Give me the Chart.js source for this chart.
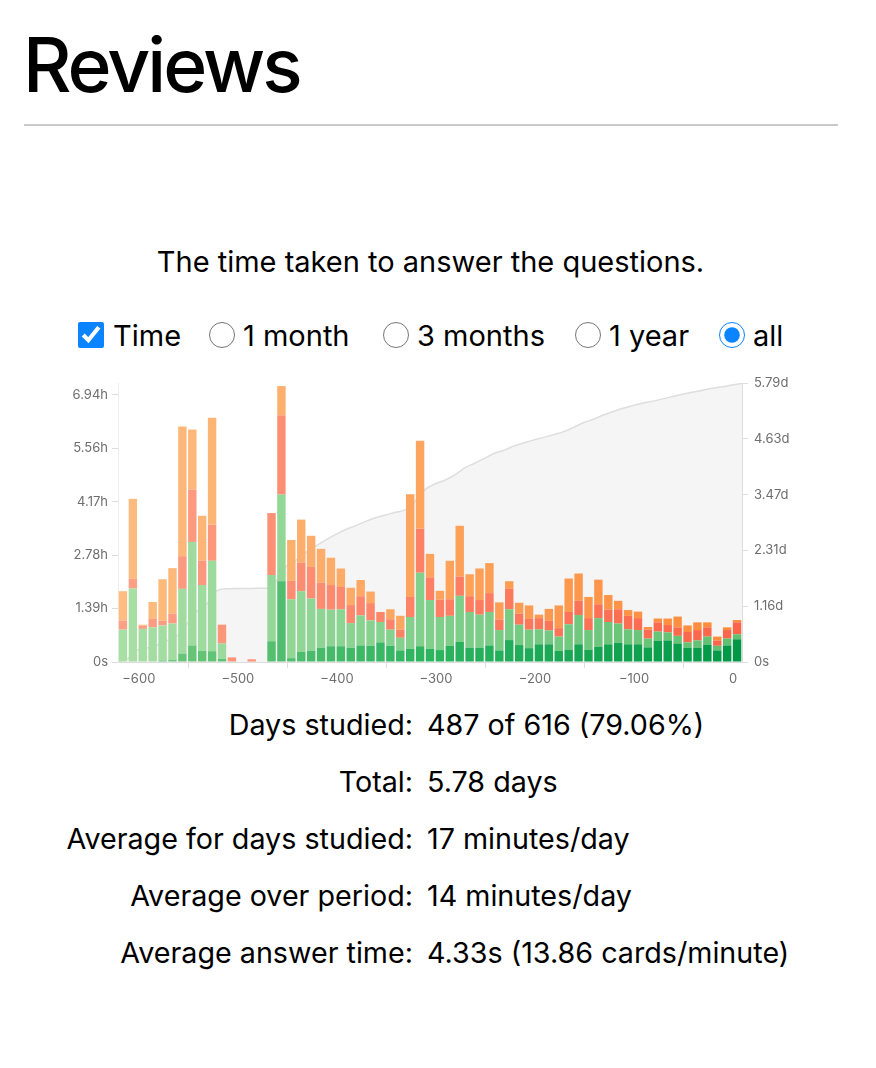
<!DOCTYPE html>
<html><head><meta charset="utf-8">
<script src="https://cdn.jsdelivr.net/npm/chart.js@4.4.0/dist/chart.umd.min.js"></script>
<style>
html,body{margin:0;padding:0;background:#fff;}
body{width:876px;height:1068px;position:relative;overflow:hidden;font-family:Inter,"Liberation Sans",Arial,sans-serif;color:#000;}
.abs{position:absolute;white-space:nowrap;}
h1{position:absolute;left:23px;top:27px;margin:0;font-size:75px;font-weight:500;line-height:75px;letter-spacing:-3px;}
.rule{position:absolute;left:24px;top:124px;width:814px;height:2px;background:#c9c9c9;}
.sub{left:0;width:861px;text-align:center;top:244px;font-size:29px;line-height:36px;}
.ctl{font-size:29px;line-height:36px;top:318px;}
input{position:absolute;margin:0;width:26px;height:26px;accent-color:#0a84ff;top:322px;}
.lab{font-size:28.7px;line-height:36px;right:463px;text-align:right;}
.val{font-size:28.7px;line-height:36px;left:427px;}
#wrap{position:absolute;left:0;top:360px;width:876px;height:340px;}
</style></head>
<body>
<h1>Reviews</h1>
<div class="rule"></div>
<div class="abs sub">The time taken to answer the questions.</div>

<input type="checkbox" checked style="left:78px">
<div class="abs ctl" style="left:113px">Time</div>
<input type="radio" name="r" style="left:209px">
<div class="abs ctl" style="left:243px">1 month</div>
<input type="radio" name="r" style="left:383px">
<div class="abs ctl" style="left:417px">3 months</div>
<input type="radio" name="r" style="left:575px">
<div class="abs ctl" style="left:609px">1 year</div>
<input type="radio" name="r" checked style="left:719px">
<div class="abs ctl" style="left:753px">all</div>

<div id="wrap"><canvas id="c" width="876" height="340"></canvas></div>

<div class="abs lab" style="top:707px">Days studied:</div><div class="abs val" style="top:707px">487 of 616 (79.06%)</div>
<div class="abs lab" style="top:764px">Total:</div><div class="abs val" style="top:764px">5.78 days</div>
<div class="abs lab" style="top:821px">Average for days studied:</div><div class="abs val" style="top:821px">17 minutes/day</div>
<div class="abs lab" style="top:878px">Average over period:</div><div class="abs val" style="top:878px">14 minutes/day</div>
<div class="abs lab" style="top:935px">Average answer time:</div><div class="abs val" style="top:935px">4.33s (13.86 cards/minute)</div>

<script>
// Bin centers (days relative to today), 10-day bins
const binCenters = [-616,-606,-596,-586,-576,-566,-556,-546,-536,-526,-516,-506,-496,-486,-476,-466,-456,-446,-436,-426,-416,-406,-396,-386,-376,-366,-356,-346,-336,-326,-316,-306,-296,-286,-276,-266,-256,-246,-236,-226,-216,-206,-196,-186,-176,-166,-156,-146,-136,-126,-116,-106,-96,-86,-76,-66,-56,-46,-36,-26,-16,-6,4];

// Hours per bin
const mature = [0,0,0,0,0.04,0.06,0.22,0.43,0.29,0.28,0.08,0,0,0,0,0.54,2.10,0.10,0.26,0.29,0.37,0.41,0.41,0.37,0.43,0.42,0.51,0.42,0.30,0.34,0.41,0.34,0.31,0.42,0.52,0.37,0.37,0.43,0.30,0.57,0.44,0.36,0.46,0.46,0.29,0.32,0.46,0.32,0.39,0.46,0.50,0.46,0.46,0.38,0.55,0.56,0.48,0.37,0.37,0.45,0.30,0.43,0.59];
const young = [0.84,1.91,0.86,0.90,0.91,0.94,1.68,2.69,1.71,2.35,0.40,0,0,0,0,1.72,2.25,1.53,1.58,1.36,1.01,0.95,0.96,0.64,0.78,0.66,0.53,0.42,0.33,0.83,1.91,1.27,0.86,0.78,1.20,0.93,0.86,0.87,0.53,0.80,0.53,0.48,0.39,0.36,0.37,0.66,0.76,0.51,0.75,0.58,0.50,0.39,0.37,0.23,0.24,0.21,0.20,0.14,0.19,0.21,0.12,0.18,0.13];
const relearn = [0.24,0.25,0.08,0.22,0.12,0.26,0.85,1.36,0.63,0.94,0.49,0.12,0,0.07,0,1.61,2.06,0.48,0.74,0.82,0.68,0.64,0.58,0.47,0.50,0.45,0.26,0.27,0.21,0.52,1.14,0.59,0.45,0.43,0.50,0.41,0.38,0.49,0.27,0.53,0.29,0.28,0.29,0.25,0.22,0.32,0.37,0.31,0.36,0.32,0.37,0.35,0.31,0.23,0.24,0.19,0.22,0.27,0.27,0.24,0.14,0.22,0.31];
const learn = [0.76,2.08,0.03,0.44,1.08,1.18,3.37,1.56,1.17,2.78,0,0,0,0,0,0,0.76,1.06,1.12,0.81,0.88,0.71,0.48,0.45,0.42,0.30,0,0.26,0.36,2.67,2.29,0.61,0.23,1.00,1.32,0.57,0.82,0.78,0.45,0.20,0.28,0.35,0.09,0.31,0.59,0.87,0.71,0.55,0.64,0.38,0.22,0.15,0.17,0.07,0.10,0.17,0.28,0.17,0.20,0.13,0.10,0.07,0.06];

// Cumulative time (hours) at bin edges
const cumulativeDays = [-621,-611,-601,-591,-581,-571,-561,-551,-541,-531,-521,-511,-501,-491,-481,-471,-461,-451,-441,-431,-421,-411,-401,-391,-381,-371,-361,-351,-341,-331,-321,-311,-301,-291,-281,-271,-261,-251,-241,-231,-221,-211,-201,-191,-181,-171,-161,-151,-141,-131,-121,-111,-101,-91,-81,-71,-61,-51,-41,-31,-21,-11,-1,9];
const cumulativeHours = [0,1.84,6.08,7.05,8.61,10.76,13.20,19.32,25.36,29.16,35.51,36.48,36.60,36.60,36.67,36.67,40.54,47.71,50.88,54.58,57.86,60.80,63.51,65.94,67.87,70.00,71.83,73.13,74.50,75.70,80.06,85.81,88.62,90.47,93.10,96.64,98.92,101.35,103.92,105.47,107.57,109.11,110.58,111.81,113.19,114.66,116.83,119.13,120.82,122.96,124.70,126.29,127.64,128.95,129.86,130.99,132.12,133.30,134.25,135.28,136.31,136.97,137.87,138.72];

// Axis ticks
const xTickDays = [-600,-500,-400,-300,-200,-100,0];
const leftTickSeconds = [0,5000,10000,15000,20000,25000];
const leftTickLabels = ['0s','1.39h','2.78h','4.17h','5.56h','6.94h'];
const rightTickSeconds = [0,100000,200000,300000,400000,500000];
const rightTickLabels = ['0s','1.16d','2.31d','3.47d','4.63d','5.79d'];

// Style: colour ramps from oldest to newest bin
const ramps = {
  mature: [[118,201,126],[45,180,95],[0,152,70]],
  young: [[168,223,164],[128,207,139],[95,192,112]],
  relearn: [[252,160,134],[253,128,100],[251,100,72]],
  learn: [[253,189,128],[253,163,93],[253,138,58]]
};
function rampColors(stops, n){
  const out=[];
  for(let i=0;i<n;i++){
    const t=i/(n-1); let a,b,u;
    if(t<=0.5){a=stops[0];b=stops[1];u=t/0.5;} else {a=stops[1];b=stops[2];u=(t-0.5)/0.5;}
    const c=a.map((v,j)=>Math.round(v+(b[j]-v)*u));
    out.push('rgb('+c.join(',')+')');
  }
  return out;
}
const n = binCenters.length;
function barSet(label, arr, key){
  return {type:'bar', label, data: binCenters.map((d,i)=>({x:d,y:arr[i]})), backgroundColor: rampColors(ramps[key], n),
    borderWidth:0, barPercentage:0.85, categoryPercentage:1, yAxisID:'y', order:1, stack:'s'};
}
const tickFont = {family:'Inter, "Liberation Sans", Arial, sans-serif', size:13};
const minus = v => v<0 ? '\u2212'+Math.abs(v) : String(v);

new Chart(document.getElementById('c'), {
  data: {
    datasets: [
      barSet('Mature', mature, 'mature'),
      barSet('Young', young, 'young'),
      barSet('Relearn', relearn, 'relearn'),
      barSet('Learn', learn, 'learn'),
      {type:'line', label:'Cumulative', data: cumulativeDays.map((d,i)=>({x:d,y:cumulativeHours[i]})),
        yAxisID:'y2', borderColor:'#dedede', borderWidth:1.5, backgroundColor:'#f5f5f5', fill:'origin',
        pointRadius:0, cubicInterpolationMode:'monotone', order:10}
    ]
  },
  options: {
    responsive:false, animation:false, devicePixelRatio:1,
    layout:{padding:{top:23,left:0,right:0,bottom:0}},
    plugins:{legend:{display:false}, tooltip:{enabled:false}},
    scales:{
      x:{type:'linear', min:-621, max:9, stacked:true, offset:false,
        afterBuildTicks: s => { s.ticks = xTickDays.map(v=>({value:v})); },
        afterFit: s => { s.height = 38; },
        border:{color:'#dddddd', width:1},
        grid:{drawOnChartArea:false, drawTicks:true, tickLength:6, color:'#dddddd'},
        ticks:{font:tickFont, color:'#6e6e6e', padding:3, maxRotation:0, callback:(v)=>minus(v)}
      },
      y:{type:'linear', position:'left', stacked:true, min:0, max:7.25,
        afterBuildTicks: s => { s.ticks = leftTickSeconds.map(v=>({value:v/3600})); },
        afterFit: s => { s.width = 118; },
        border:{color:'#eeeeee', width:1},
        grid:{drawOnChartArea:false, drawTicks:true, tickLength:6, color:'#dddddd'},
        ticks:{font:tickFont, color:'#6e6e6e', padding:4, callback:(v,i)=>leftTickLabels[i]}
      },
      y2:{type:'linear', position:'right', min:0, max:500000/3600,
        afterBuildTicks: s => { s.ticks = rightTickSeconds.map(v=>({value:v/3600})); },
        afterFit: s => { s.width = 134; },
        border:{color:'#dddddd', width:1},
        grid:{drawOnChartArea:false, drawTicks:true, tickLength:6, color:'#dddddd'},
        ticks:{font:tickFont, color:'#6e6e6e', padding:6, callback:(v,i)=>rightTickLabels[i]}
      }
    }
  }
});
</script>
</body></html>
